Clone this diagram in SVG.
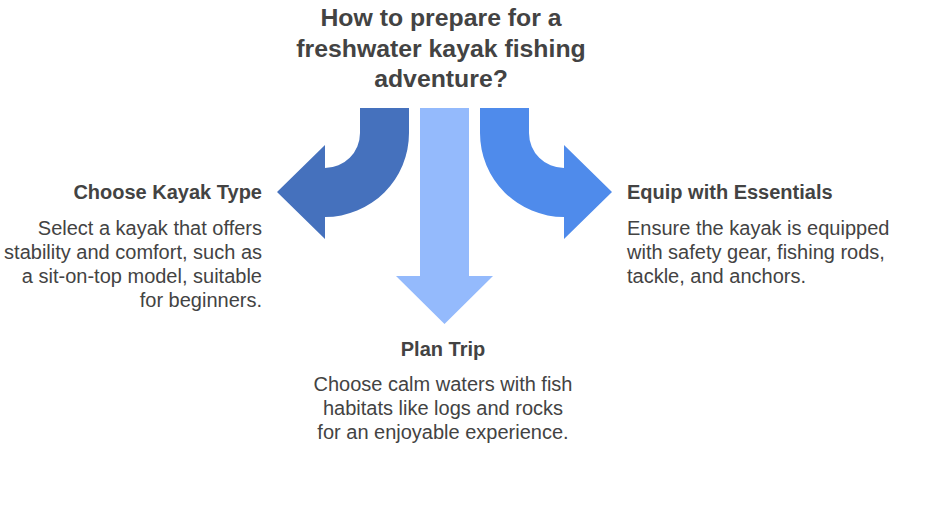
<svg xmlns="http://www.w3.org/2000/svg" width="925" height="517" viewBox="0 0 925 517">
<style>
.t{font-family:"Liberation Sans",Arial,sans-serif;fill:#434343}
.title{font-size:24.8px;font-weight:bold;text-anchor:middle}
.h{font-size:20px;font-weight:bold}
.b{font-size:20px}
.l{text-anchor:end}
.c{text-anchor:middle}
</style>
<rect width="925" height="517" fill="#ffffff"/>
<g id="title">
<text class="t title" x="441" y="26">How to prepare for a</text>
<text class="t title" x="441" y="57">freshwater kayak fishing</text>
<text class="t title" x="441" y="87">adventure?</text>
</g>
<g id="connectors">
<path id="arrow-left" fill="#4571BD" d="M409,108 L409,133 A84,84 0 0 1 325,217 L325,239 L277,192 L325,145 L325,168 A35,35 0 0 0 360,133 L360,108 Z"/>
<path id="arrow-down" fill="#94BAFC" d="M420,108 L469,108 L469,276 L493,276 L444.5,324 L396,276 L420,276 Z"/>
<path id="arrow-right" fill="#4F8BEB" d="M480,108 L480,133 A84,84 0 0 0 564,217 L564,239 L612,192 L564,145 L564,168 A35,35 0 0 1 529,133 L529,108 Z"/>
</g>
<g id="node-choose">
<text class="t h l" x="262" y="199">Choose Kayak Type</text>
<text class="t b l" x="262" y="235">Select a kayak that offers</text>
<text class="t b l" x="262" y="259">stability and comfort, such as</text>
<text class="t b l" x="262" y="283">a sit-on-top model, suitable</text>
<text class="t b l" x="262" y="307">for beginners.</text>
</g>
<g id="node-equip">
<text class="t h" x="627" y="199">Equip with Essentials</text>
<text class="t b" x="627" y="235">Ensure the kayak is equipped</text>
<text class="t b" x="627" y="259">with safety gear, fishing rods,</text>
<text class="t b" x="627" y="283">tackle, and anchors.</text>
</g>
<g id="node-plan">
<text class="t h c" x="443" y="356">Plan Trip</text>
<text class="t b c" x="443" y="391">Choose calm waters with fish</text>
<text class="t b c" x="443" y="415">habitats like logs and rocks</text>
<text class="t b c" x="443" y="439">for an enjoyable experience.</text>
</g>
</svg>
